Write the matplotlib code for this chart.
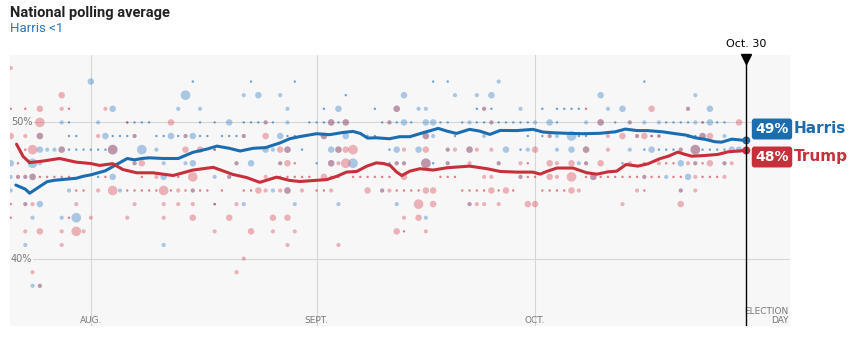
import numpy as np
import matplotlib.pyplot as plt
from matplotlib.transforms import blended_transform_factory

# days counted from Aug. 1 (0 = Aug. 1, 31 = Sept. 1, 61 = Oct. 1, 90 = Oct. 30, 96 = Nov. 5)
month_days = [0, 31, 61]
month_labels = ['AUG.', 'SEPT.', 'OCT.']
today = 90
today_label = 'Oct. 30'

# polling averages
harris_avg_days = [-10.3, -9, -8.4, -7, -6, -5, -4, -3, -2, -1, 0, 1, 2, 3, 4, 5, 6, 7, 8, 10, 12, 14, 16,
                   17.3, 19, 20.5, 22.3, 24, 26, 27.3, 28.7, 31, 32.8, 34.6, 36, 37, 38, 39.2, 41, 42.4,
                   43.8, 45.6, 47.7, 48.9, 50.2, 52, 53.4, 54.8, 56.2, 58.5, 60.7, 62.1, 63.5, 65.3, 67.6,
                   69.9, 72, 73.4, 75, 76.4, 78.5, 80.3, 81.7, 83, 84.4, 85.7, 86.6, 88, 89.4, 90]
harris_avg = [45.4, 45.1, 44.8, 45.3, 45.65, 45.75, 45.8, 45.85, 45.9, 46.05, 46.15, 46.3, 46.45, 46.75,
              47.05, 47.35, 47.25, 47.35, 47.4, 47.35, 47.35, 47.8, 48.05, 48.26, 48.1, 47.9, 48.1, 48.15,
              48.5, 48.8, 48.96, 49.17, 49.1, 49.26, 49.34, 49.19, 48.85, 48.87, 48.8, 48.95, 48.95,
              49.24, 49.56, 49.36, 49.19, 49.49, 49.36, 49.12, 49.41, 49.4, 49.49, 49.29, 49.24, 49.2,
              49.17, 49.2, 49.31, 49.51, 49.4, 49.4, 49.31, 49.17, 49.07, 48.87, 48.75, 48.58, 48.55,
              48.77, 48.7, 48.68]

trump_avg_days = [-10.2, -9.3, -8.4, -6.6, -4.3, -2, 0, 1.2, 3, 4.4, 6.3, 8.5, 11.3, 14, 16.8, 19.5, 21.4,
                  23.2, 25.5, 27.3, 28.7, 30.5, 32.4, 33.8, 35.1, 36.5, 37.9, 39.2, 40.2, 41.1, 42, 42.7,
                  43.8, 45.2, 47, 48.9, 52, 54.4, 56.2, 58.5, 60.7, 61.7, 62.6, 64, 66.2, 68.1, 69.5, 71,
                  72.2, 73.5, 75.1, 76.5, 78.1, 79.3, 80.6, 81.6, 82.5, 84.3, 86.1, 87.5, 88.9, 90]
trump_avg = [48.4, 47.5, 47.05, 47.16, 47.35, 47.08, 46.98, 46.84, 46.97, 46.54, 46.3, 46.3, 46.1, 46.5,
             46.7, 46.18, 45.95, 45.6, 45.98, 45.74, 45.66, 45.73, 45.8, 46.05, 46.35, 46.4, 46.79, 47.03,
             46.98, 46.84, 46.35, 46.1, 46.42, 46.6, 46.5, 46.67, 46.79, 46.6, 46.4, 46.35, 46.35, 46.2,
             46.4, 46.65, 46.65, 46.3, 46.2, 46.37, 46.42, 46.91, 46.79, 46.96, 47.33, 47.52, 47.82,
             47.65, 47.52, 47.57, 47.65, 47.84, 47.9, 47.94]

# individual polls: (day, pct, size class 1=tiny .. 4=large)
harris_polls = [
    (0, 53, 3), (14, 53, 1), (22, 53, 1), (28, 53, 1), (47, 53, 1), (49, 53, 1), (56, 53, 2), (76, 53, 1),
    (13, 52, 4), (21, 52, 2), (23, 52, 3), (26, 52, 2), (35, 52, 1), (43, 52, 3), (50, 52, 2), (53, 52, 2),
    (55, 52, 3), (70, 52, 3), (83, 52, 2),
    (3, 51, 3), (12, 51, 2), (15, 51, 2), (27, 51, 2), (32, 51, 1), (34, 51, 3), (39, 51, 1), (42, 51, 3),
    (45, 51, 2), (46, 51, 2), (53, 51, 1), (54, 51, 2), (55, 51, 1), (59, 51, 2), (62, 51, 1), (64, 51, 1),
    (65, 51, 1), (66, 51, 1), (67, 51, 1), (71, 51, 2), (73, 51, 3), (82, 51, 2), (85, 51, 3),
    (-4, 50, 2), (-3, 50, 1), (1, 50, 2), (5, 50, 1), (6, 50, 1), (7, 50, 1), (8, 50, 1), (15, 50, 1),
    (17, 50, 1), (19, 50, 3), (21, 50, 1), (22, 50, 1), (23, 50, 1), (24, 50, 2), (25, 50, 1), (27, 50, 2),
    (30, 50, 1), (31, 50, 1), (32, 50, 1), (33, 50, 3), (34, 50, 1), (35, 50, 3), (40, 50, 1), (41, 50, 2),
    (42, 50, 1), (43, 50, 3), (44, 50, 1), (46, 50, 3), (47, 50, 3), (48, 50, 1), (49, 50, 1), (51, 50, 1),
    (52, 50, 2), (53, 50, 1), (54, 50, 1), (55, 50, 2), (56, 50, 1), (57, 50, 1), (58, 50, 1), (59, 50, 1),
    (60, 50, 1), (61, 50, 2), (63, 50, 3), (64, 50, 1), (68, 50, 2), (70, 50, 3), (72, 50, 1), (74, 50, 2),
    (76, 50, 2), (78, 50, 2), (79, 50, 1), (80, 50, 1), (81, 50, 1), (82, 50, 1), (83, 50, 2), (84, 50, 1),
    (85, 50, 3), (86, 50, 1), (87, 50, 1),
    (-7, 49, 3), (-3, 49, 1), (-2, 49, 1), (2, 49, 3), (3, 49, 1), (4, 49, 1), (5, 49, 1), (6, 49, 2),
    (9, 49, 1), (10, 49, 1), (11, 49, 3), (12, 49, 1), (13, 49, 2), (14, 49, 3), (15, 49, 1), (16, 49, 1),
    (18, 49, 1), (19, 49, 1), (20, 49, 1), (21, 49, 2), (26, 49, 3), (27, 49, 1), (28, 49, 1), (32, 49, 3),
    (35, 49, 3), (38, 49, 1), (39, 49, 1), (46, 49, 3), (47, 49, 2), (50, 49, 1), (54, 49, 2), (60, 49, 1),
    (62, 49, 1), (63, 49, 2), (64, 49, 2), (66, 49, 4), (67, 49, 1), (68, 49, 1), (75, 49, 2), (77, 49, 1),
    (78, 49, 1), (82, 49, 2), (83, 49, 1), (84, 49, 3), (87, 49, 2),
    (-7, 48, 3), (-6, 48, 2), (-5, 48, 2), (-4, 48, 3), (-3, 48, 1), (-2, 48, 1), (-1, 48, 1), (0, 48, 1),
    (1, 48, 1), (2, 48, 1), (3, 48, 4), (7, 48, 4), (9, 48, 2), (17, 48, 1), (24, 48, 3), (25, 48, 2),
    (27, 48, 3), (29, 48, 1), (33, 48, 3), (34, 48, 3), (41, 48, 1), (42, 48, 3), (45, 48, 3), (49, 48, 2),
    (52, 48, 3), (57, 48, 3), (59, 48, 1), (60, 48, 2), (64, 48, 2), (66, 48, 3), (68, 48, 3), (74, 48, 2),
    (76, 48, 1), (77, 48, 3), (78, 48, 1), (79, 48, 1), (80, 48, 1), (81, 48, 2), (83, 48, 4), (84, 48, 1),
    (85, 48, 1), (86, 48, 1), (87, 48, 1), (88, 48, 3), (89, 48, 3),
    (-11, 47, 3), (-8, 47, 4), (-7, 47, 2), (6, 47, 2), (10, 47, 2), (13, 47, 2), (14, 47, 3), (20, 47, 2),
    (22, 47, 3), (26, 47, 2), (31, 47, 1), (33, 47, 3), (36, 47, 4), (41, 47, 1), (42, 47, 2), (43, 47, 2),
    (46, 47, 4), (47, 47, 1), (49, 47, 2), (56, 47, 2), (67, 47, 2), (68, 47, 2), (73, 47, 1), (81, 47, 3),
    (83, 47, 2), (87, 47, 2),
    (-11, 46, 2), (-10, 46, 2), (-9, 46, 2), (-8, 46, 3), (1, 46, 1), (3, 46, 3), (10, 46, 3), (17, 46, 2),
    (19, 46, 2), (59, 46, 2), (69, 46, 3), (76, 46, 2), (79, 46, 2), (82, 46, 3),
    (-11, 45, 2), (-3, 45, 2), (4, 45, 2), (14, 45, 2), (25, 45, 2), (27, 45, 3), (40, 45, 2), (81, 45, 2),
    (-9, 44, 2), (-7, 44, 3), (17, 44, 1), (21, 44, 2), (28, 44, 2), (34, 44, 2), (42, 44, 2), (52, 44, 2),
    (-8, 43, 2), (-4, 43, 2), (-2, 43, 4), (46, 43, 2),
    (-9, 41, 2), (10, 41, 2),
    (-8, 38, 2), (-7, 38, 2),
]

trump_polls = [
    (-11, 54, 2),
    (-4, 52, 3),
    (-11, 51, 1), (-9, 51, 1), (-7, 51, 3), (-4, 51, 2), (-3, 51, 1), (2, 51, 2), (42, 51, 3), (54, 51, 2),
    (68, 51, 1), (77, 51, 3), (82, 51, 2),
    (-7, 50, 4), (5, 50, 1), (11, 50, 3), (24, 50, 2), (33, 50, 3), (35, 50, 3), (41, 50, 2), (55, 50, 2),
    (70, 50, 3), (74, 50, 2), (84, 50, 1), (89, 50, 3),
    (-11, 49, 3), (-9, 49, 2), (-7, 49, 3), (1, 49, 2), (6, 49, 2), (13, 49, 2), (21, 49, 2), (24, 49, 3),
    (32, 49, 3), (46, 49, 3), (63, 49, 2), (71, 49, 2), (73, 49, 3), (75, 49, 2), (76, 49, 3), (77, 49, 1),
    (78, 49, 2), (84, 49, 3), (85, 49, 3),
    (-9, 48, 1), (-8, 48, 4), (-4, 48, 3), (3, 48, 4), (13, 48, 3), (15, 48, 3), (17, 48, 1), (26, 48, 3),
    (27, 48, 3), (34, 48, 3), (35, 48, 3), (36, 48, 4), (43, 48, 2), (46, 48, 3), (49, 48, 2), (50, 48, 2),
    (52, 48, 3), (53, 48, 2), (55, 48, 2), (61, 48, 3), (68, 48, 3), (71, 48, 2), (81, 48, 2), (83, 48, 4),
    (-10, 47, 1), (6, 47, 2), (7, 47, 3), (20, 47, 2), (26, 47, 2), (27, 47, 3), (28, 47, 1), (33, 47, 3),
    (34, 47, 2), (35, 47, 4), (42, 47, 2), (43, 47, 2), (46, 47, 4), (49, 47, 2), (52, 47, 2), (56, 47, 2),
    (59, 47, 2), (60, 47, 1), (63, 47, 3), (64, 47, 2), (66, 47, 3), (68, 47, 2), (70, 47, 3), (74, 47, 2),
    (76, 47, 1), (78, 47, 2), (79, 47, 1), (80, 47, 1), (82, 47, 2), (83, 47, 2), (84, 47, 1), (85, 47, 3),
    (87, 47, 2), (88, 47, 2),
    (-10, 46, 2), (-9, 46, 2), (-8, 46, 3), (-7, 46, 1), (-6, 46, 1), (-5, 46, 1), (-4, 46, 1), (-3, 46, 1),
    (2, 46, 1), (7, 46, 1), (9, 46, 2), (12, 46, 1), (14, 46, 4), (19, 46, 2), (24, 46, 2), (26, 46, 1),
    (27, 46, 1), (28, 46, 1), (29, 46, 1), (30, 46, 1), (32, 46, 3), (33, 46, 1), (34, 46, 1), (36, 46, 1),
    (37, 46, 1), (38, 46, 1), (39, 46, 1), (40, 46, 1), (41, 46, 1), (43, 46, 3), (48, 46, 1), (49, 46, 1),
    (50, 46, 1), (54, 46, 2), (55, 46, 2), (59, 46, 2), (60, 46, 1), (61, 46, 1), (63, 46, 3), (64, 46, 2),
    (66, 46, 4), (68, 46, 1), (69, 46, 3), (70, 46, 1), (71, 46, 1), (72, 46, 1), (73, 46, 1), (74, 46, 1),
    (75, 46, 1), (76, 46, 2), (77, 46, 1), (78, 46, 1), (80, 46, 1), (81, 46, 1), (83, 46, 2), (84, 46, 1),
    (85, 46, 1), (86, 46, 1), (87, 46, 2),
    (-2, 45, 1), (-1, 45, 1), (1, 45, 2), (3, 45, 4), (5, 45, 1), (6, 45, 1), (7, 45, 1), (8, 45, 1),
    (9, 45, 1), (10, 45, 4), (11, 45, 1), (12, 45, 2), (13, 45, 1), (14, 45, 2), (15, 45, 1), (16, 45, 1),
    (18, 45, 1), (21, 45, 1), (22, 45, 1), (23, 45, 3), (24, 45, 2), (26, 45, 2), (27, 45, 3), (29, 45, 2),
    (31, 45, 1), (32, 45, 1), (33, 45, 2), (38, 45, 3), (40, 45, 2), (41, 45, 2), (42, 45, 1), (43, 45, 1),
    (44, 45, 1), (45, 45, 1), (46, 45, 3), (47, 45, 3), (51, 45, 1), (52, 45, 1), (53, 45, 1), (54, 45, 1),
    (55, 45, 3), (56, 45, 1), (57, 45, 3), (58, 45, 1), (62, 45, 1), (63, 45, 1), (64, 45, 1), (65, 45, 1),
    (66, 45, 3), (67, 45, 2), (75, 45, 2), (76, 45, 1), (81, 45, 2), (83, 45, 2),
    (-11, 44, 1), (-9, 44, 2), (-8, 44, 2), (-2, 44, 2), (6, 44, 2), (10, 44, 2), (12, 44, 2), (14, 44, 2),
    (17, 44, 1), (20, 44, 2), (45, 44, 4), (47, 44, 3), (52, 44, 2), (53, 44, 2), (54, 44, 2), (56, 44, 2),
    (60, 44, 3), (61, 44, 3), (73, 44, 2), (81, 44, 3),
    (-11, 43, 1), (-3, 43, 1), (0, 43, 2), (5, 43, 2), (10, 43, 2), (14, 43, 3), (19, 43, 3), (25, 43, 3),
    (27, 43, 3), (43, 43, 2), (45, 43, 3),
    (-9, 42, 2), (-7, 42, 3), (-4, 42, 2), (-2, 42, 4), (-1, 42, 2), (17, 42, 2), (22, 42, 3), (25, 42, 2),
    (28, 42, 2), (42, 42, 3), (43, 42, 1), (46, 42, 2),
    (-4, 41, 2), (27, 41, 2), (34, 41, 2),
    (21, 40, 2),
    (-8, 39, 2), (20, 39, 2),
    (-7, 38, 2),
]

harris_now = 49
trump_now = 48

blue = '#1c6db0'
red = '#c6303a'
blue_dot = '#3d85c6'
red_dot = '#d9535c'
bg = '#f7f7f7'
dot_size = {1: 3, 2: 9, 3: 22, 4: 48}

fig = plt.figure(figsize=(8.56, 3.39), dpi=100)
ax = fig.add_axes([10 / 856, 1 - 326 / 339, 780 / 856, 271 / 339])
ax.set_facecolor(bg)
ax.set_xlim(-11.1, 96)
ax.set_ylim(35.05, 54.95)
for s in ax.spines.values():
    s.set_visible(False)
ax.set_xticks([])
ax.set_yticks([])

# grid
for d in month_days:
    ax.axvline(d, color='#d6d6d6', lw=0.8, zorder=1)
for p in [50, 40]:
    ax.axhline(p, color='#d6d6d6', lw=0.8, zorder=1)
    ax.text(-11.0, p, f'{p}%', ha='left', va='center', fontsize=7, color='#777777',
            bbox=dict(facecolor=bg, edgecolor='none', pad=0.6), zorder=2)
for d, lab in zip(month_days, month_labels):
    ax.text(d, 35.3, lab, ha='center', va='baseline', fontsize=6.5, color='#777777')
ax.text(95.8, 35.3, 'ELECTION\nDAY', ha='right', va='baseline', multialignment='right',
        fontsize=6.5, color='#777777', linespacing=1.0)

# polls
for polls, col in [(harris_polls, blue_dot), (trump_polls, red_dot)]:
    xs = [p[0] for p in polls]
    ys = [p[1] for p in polls]
    ss = [dot_size[p[2]] for p in polls]
    al = [0.75 if p[2] == 1 else 0.42 for p in polls]
    ax.scatter(xs, ys, s=ss, color=col, alpha=al, linewidths=0, zorder=3)

# averages
ax.plot(harris_avg_days, harris_avg, color=blue, lw=2.2, zorder=5, solid_capstyle='round')
ax.plot(trump_avg_days, trump_avg, color=red, lw=2.2, zorder=5, solid_capstyle='round')
ax.scatter([today, today], [harris_avg[-1], trump_avg[-1]], s=22, color=[blue, red], zorder=6)

# today marker
ax.axvline(today, color='black', lw=1, zorder=7)
tr = blended_transform_factory(ax.transData, ax.transAxes)
ax.plot([today], [1 - 3.5 / 271], marker='v', ms=7, color='black', transform=tr, clip_on=False, zorder=8)
ax.text(today, 1 + 11 / 271, today_label, transform=tr, ha='center', va='center', fontsize=8)

# end labels
fig.text(772 / 856, 1 - 129 / 339, f'{harris_now}%', ha='center', va='center', color='white',
         fontsize=10, fontweight='bold',
         bbox=dict(boxstyle='round,pad=0.25,rounding_size=0.2', facecolor=blue, edgecolor='none'))
fig.text(794 / 856, 1 - 129 / 339, 'Harris', ha='left', va='center', color=blue, fontsize=11,
         fontweight='bold')
fig.text(772 / 856, 1 - 157 / 339, f'{trump_now}%', ha='center', va='center', color='white',
         fontsize=10, fontweight='bold',
         bbox=dict(boxstyle='round,pad=0.25,rounding_size=0.2', facecolor=red, edgecolor='none'))
fig.text(794 / 856, 1 - 157 / 339, 'Trump', ha='left', va='center', color=red, fontsize=11,
         fontweight='bold')

# title
fig.text(10 / 856, 1 - 13 / 339, 'National polling average', ha='left', va='center', fontsize=10.5,
         fontweight='bold', color='#222222', family='Roboto')
fig.text(10 / 856, 1 - 28 / 339, 'Harris <1', ha='left', va='center', fontsize=9.5,
         color='#2a77b9', family='Roboto')

fig.savefig('out.png', dpi=100)
